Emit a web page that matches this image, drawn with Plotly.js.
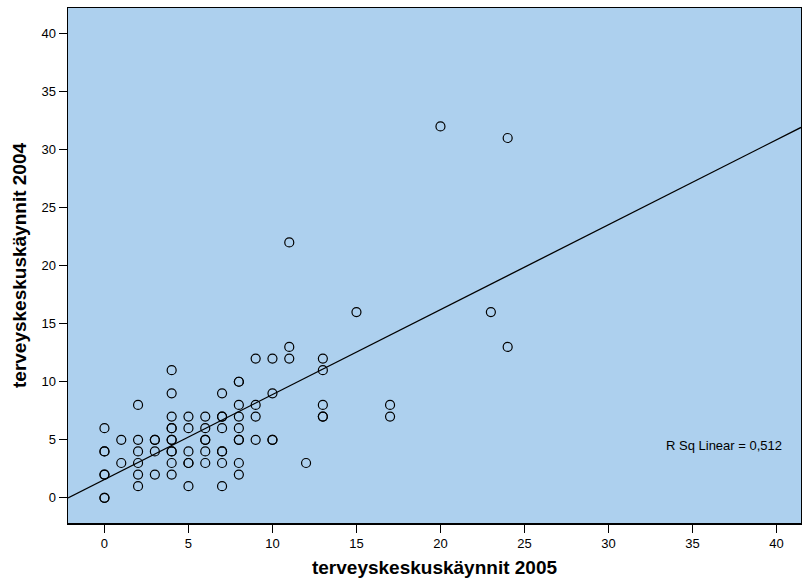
<!DOCTYPE html>
<html>
<head>
<meta charset="utf-8">
<script src="https://cdn.plot.ly/plotly-3.0.1.min.js"></script>
<style>
html,body{margin:0;padding:0;background:#ffffff;}
#chart{width:802px;height:580px;}
</style>
</head>
<body>
<div id="chart"></div>
<script>
// terveyskeskuskäynnit 2005 (x) vs 2004 (y); overlapping cases repeated
const visits2005 = [
  0,0,0,0,0,0,0,
  1,1,
  2,2,2,2,2,2,
  3,3,3,3,
  4,4,4,4,4,4,4,4,4,4,4,
  5,5,5,5,5,5,
  6,6,6,6,6,6,
  7,7,7,7,7,7,7,7,
  8,8,8,8,8,8,8,8,8,
  9,9,9,9,
  10,10,10,10,
  11,11,11,
  12,
  13,13,13,13,13,
  15,
  17,17,
  20,
  23,
  24,24
];
const visits2004 = [
  0,0,2,2,4,4,6,
  3,5,
  1,2,3,4,5,8,
  2,4,5,5,
  2,3,4,4,5,5,6,6,7,9,11,
  1,3,3,4,6,7,
  3,4,5,5,6,7,
  1,3,4,4,6,7,7,9,
  2,3,5,5,6,7,8,10,10,
  5,7,8,12,
  5,5,9,12,
  12,13,22,
  3,
  7,7,8,11,12,
  16,
  7,8,
  32,
  16,
  13,31
];
const fitIntercept = 1.58;
const fitSlope = 0.7316;
const rSqLabel = "R Sq Linear = 0,512";
const xTicks = [0,5,10,15,20,25,30,35,40];
const yTicks = [0,5,10,15,20,25,30,35,40];
const xRange = [-2.17, 41.46];
const yRange = [-2.17, 42.2];

const fitX = [xRange[0], xRange[1]];
const fitY = fitX.map(v => fitIntercept + fitSlope * v);

const traces = [
  {
    x: fitX, y: fitY, type: 'scatter', mode: 'lines',
    line: {color: '#000000', width: 1.3},
    hoverinfo: 'skip', showlegend: false
  },
  {
    x: visits2005, y: visits2004, type: 'scatter', mode: 'markers',
    marker: {symbol: 'circle-open', size: 9, color: '#000000', line: {width: 1.2, color: '#000000'}},
    showlegend: false
  }
];

const fontFam = 'Liberation Sans, Arial, sans-serif';
const axisCommon = {
  showgrid: false, zeroline: false,
  showline: true, linecolor: '#000000', linewidth: 1.5, mirror: true,
  ticks: 'outside', ticklen: 8, tickwidth: 1, tickcolor: '#000000',
  tickfont: {family: fontFam, size: 13, color: '#000000'}
};

const layout = {
  width: 802, height: 580,
  margin: {l: 68, r: 1, t: 8, b: 57},
  paper_bgcolor: '#ffffff',
  plot_bgcolor: '#add0ee',
  showlegend: false,
  xaxis: Object.assign({}, axisCommon, {
    range: xRange, tickvals: xTicks, ticktext: xTicks.map(String),
    title: {text: 'terveyskeskuskäynnit 2005', standoff: 10,
      font: {family: fontFam, size: 19, color: '#000000', weight: 'bold'}}
  }),
  yaxis: Object.assign({}, axisCommon, {
    range: yRange, tickvals: yTicks, ticktext: yTicks.map(String),
    title: {text: 'terveyskeskuskäynnit 2004', standoff: 10,
      font: {family: fontFam, size: 19, color: '#000000', weight: 'bold'}}
  }),
  annotations: [{
    xref: 'paper', yref: 'paper', x: 0.977, y: 0.151,
    xanchor: 'right', yanchor: 'middle', showarrow: false,
    text: rSqLabel,
    font: {family: fontFam, size: 13, color: '#000000'}
  }]
};

Plotly.newPlot('chart', traces, layout, {displayModeBar: false, staticPlot: true});
</script>
</body>
</html>
